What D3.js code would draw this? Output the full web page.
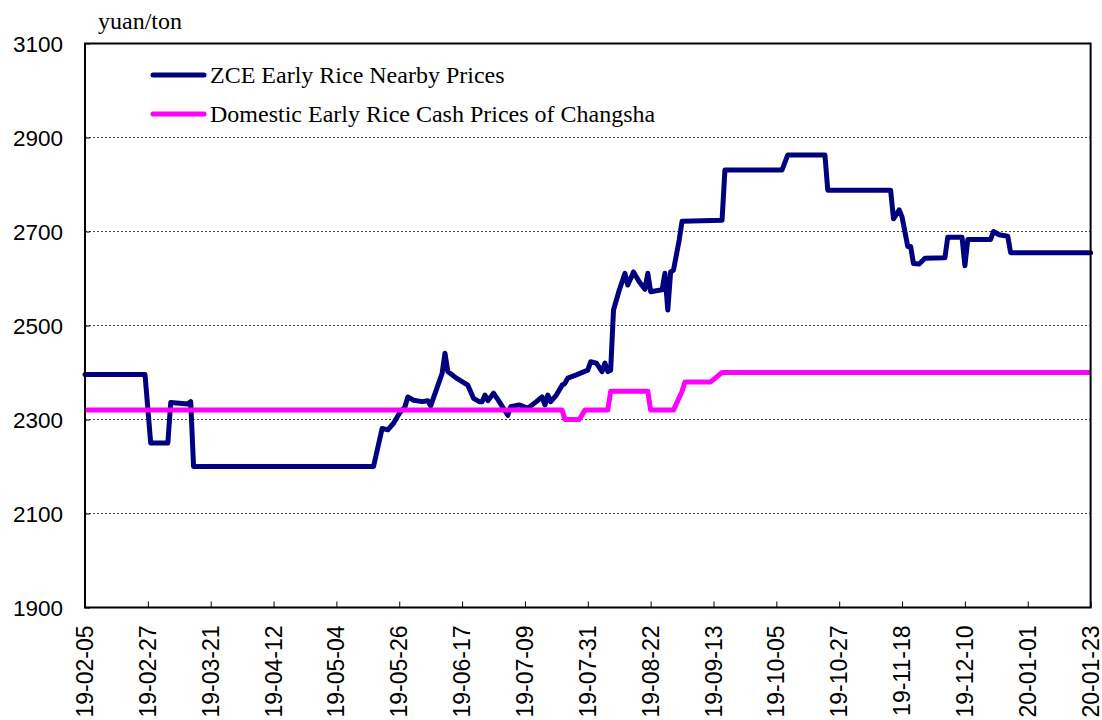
<!DOCTYPE html>
<html>
<head>
<meta charset="utf-8">
<script src="https://cdn.jsdelivr.net/npm/d3@7"></script>
<style>
  html, body { margin: 0; padding: 0; background: #fff; }
  svg { display: block; }
</style>
</head>
<body>
<svg id="chart" width="1102" height="720"></svg>
<script>
// ---------- DATA ----------
const seriesNames = ["ZCE Early Rice Nearby Prices", "Domestic Early Rice Cash Prices of Changsha"];
const unitLabel = "yuan/ton";

const zceDates = [
  "2019-02-05","2019-02-26","2019-02-28","2019-03-06","2019-03-07","2019-03-13","2019-03-14","2019-03-15",
  "2019-05-17","2019-05-20","2019-05-22","2019-05-24","2019-05-26","2019-05-28","2019-05-29","2019-05-31",
  "2019-06-03","2019-06-05","2019-06-06","2019-06-10","2019-06-11","2019-06-12","2019-06-15","2019-06-19",
  "2019-06-21","2019-06-23","2019-06-24","2019-06-25","2019-06-26","2019-06-28","2019-06-30","2019-07-03",
  "2019-07-04","2019-07-07","2019-07-10","2019-07-13","2019-07-15","2019-07-16","2019-07-17","2019-07-18",
  "2019-07-20","2019-07-22","2019-07-23","2019-07-24","2019-07-27","2019-07-31","2019-08-01","2019-08-03",
  "2019-08-05","2019-08-06","2019-08-07","2019-08-08","2019-08-09","2019-08-11","2019-08-13","2019-08-14",
  "2019-08-16","2019-08-18","2019-08-20","2019-08-21","2019-08-22","2019-08-24","2019-08-26","2019-08-27",
  "2019-08-28","2019-08-29","2019-08-30","2019-09-01","2019-09-02","2019-09-16","2019-09-17","2019-10-07",
  "2019-10-09","2019-10-22","2019-10-23","2019-11-14","2019-11-15","2019-11-17","2019-11-18","2019-11-20",
  "2019-11-21","2019-11-22","2019-11-24","2019-11-26","2019-12-03","2019-12-04","2019-12-09","2019-12-10",
  "2019-12-11","2019-12-19","2019-12-20","2019-12-22","2019-12-25","2019-12-26","2020-01-23"
];
const zceValues = [
  2396,2396,2250,2250,2336,2333,2338,2200,
  2200,2281,2278,2292,2313,2327,2348,2341,
  2338,2340,2329,2398,2441,2402,2388,2373,
  2345,2338,2338,2352,2340,2356,2338,2309,
  2327,2331,2324,2338,2348,2331,2352,2338,
  2352,2373,2377,2388,2395,2405,2423,2420,
  2402,2420,2402,2405,2533,2575,2611,2586,
  2614,2593,2577,2611,2572,2574,2576,2611,
  2533,2614,2618,2682,2722,2724,2831,2831,
  2863,2863,2788,2788,2727,2746,2731,2668,
  2668,2632,2631,2643,2644,2688,2688,2627,
  2683,2683,2700,2693,2690,2655,2655
];

const cashDates = [
  "2019-02-05","2019-07-22","2019-07-23","2019-07-28","2019-07-30","2019-08-07","2019-08-08","2019-08-21",
  "2019-08-22","2019-08-30","2019-09-02","2019-09-03","2019-09-12","2019-09-16","2020-01-23"
];
const cashValues = [
  2320,2320,2300,2300,2320,2320,2360,2360,
  2320,2320,2360,2380,2380,2400,2400
];

const xTickLabels = ["19-02-05","19-02-27","19-03-21","19-04-12","19-05-04","19-05-26","19-06-17","19-07-09",
  "19-07-31","19-08-22","19-09-13","19-10-05","19-10-27","19-11-18","19-12-10","20-01-01","20-01-23"];
const yTickValues = [1900, 2100, 2300, 2500, 2700, 2900, 3100];
const gridValues = [2100, 2300, 2500, 2700, 2900];

// ---------- CHART ----------
(function () {
const svg = d3.select("#chart");
const pL = 85, pR = 1090.6, pT = 43.5, pB = 607.5;
const parse = d3.timeParse("%Y-%m-%d");
const parseTick = d3.timeParse("%y-%m-%d");

const x = d3.scaleTime()
  .domain([parse("2019-02-05"), parse("2020-01-23")])
  .range([pL, pR]);
const y = d3.scaleLinear().domain([1900, 3100]).range([pB, pT]);

// gridlines
svg.append("g").selectAll("line").data(gridValues).join("line")
  .attr("x1", pL).attr("x2", pR)
  .attr("y1", d => y(d)).attr("y2", d => y(d))
  .attr("stroke", "#444").attr("stroke-width", 1)
  .attr("stroke-dasharray", "2,2");

// lines
const line = d3.line().x(d => x(d[0])).y(d => y(d[1]));
const zce = zceDates.map((d, i) => [parse(d), zceValues[i]]);
const cash = cashDates.map((d, i) => [parse(d), cashValues[i]]);

svg.append("path").datum(zce).attr("d", line)
  .attr("fill", "none").attr("stroke", "#000080").attr("stroke-width", 5)
  .attr("stroke-linejoin", "round").attr("stroke-linecap", "round");
svg.append("path").datum(cash).attr("d", line)
  .attr("fill", "none").attr("stroke", "#FF00FF").attr("stroke-width", 5)
  .attr("stroke-linejoin", "round").attr("stroke-linecap", "butt");

// axes
const tickDates = xTickLabels.map(parseTick);
const xAxis = d3.axisBottom(x).tickValues(tickDates).tickSize(-6).tickFormat(d3.timeFormat("%y-%m-%d"));
const gx = svg.append("g").attr("transform", `translate(0,${pB})`).call(xAxis);
gx.select(".domain").remove();
gx.selectAll(".tick line").attr("stroke", "#000").attr("stroke-width", 1);
gx.selectAll(".tick text")
  .attr("font-family", "'Liberation Sans', Arial, sans-serif")
  .attr("font-size", 23).attr("fill", "#000")
  .attr("transform", "rotate(-90)")
  .attr("text-anchor", "end")
  .attr("x", -18).attr("y", 0).attr("dy", "0.33em");

const yAxis = d3.axisLeft(y).tickValues(yTickValues).tickSize(-5).tickFormat(d3.format("d"));
const gy = svg.append("g").attr("transform", `translate(${pL},0)`).call(yAxis);
gy.select(".domain").remove();
gy.selectAll(".tick line").attr("stroke", "#000");
gy.selectAll(".tick text")
  .attr("font-family", "'Liberation Sans', Arial, sans-serif")
  .attr("font-size", 22.5).attr("fill", "#000")
  .attr("x", -22).attr("dy", "0.36em");

// frame
svg.append("rect").attr("x", pL).attr("y", pT)
  .attr("width", pR - pL).attr("height", pB - pT)
  .attr("fill", "none").attr("stroke", "#000").attr("stroke-width", 2);

// unit label
svg.append("text").attr("x", 98).attr("y", 29)
  .attr("font-family", "'Liberation Serif', 'Times New Roman', serif")
  .attr("font-size", 24).text(unitLabel);

// legend
const legendColors = ["#000080", "#FF00FF"];
const lg = svg.append("g");
seriesNames.forEach((name, i) => {
  const ly = 75 + i * 39;
  lg.append("line").attr("x1", 153).attr("x2", 204).attr("y1", ly).attr("y2", ly)
    .attr("stroke", legendColors[i]).attr("stroke-width", 5).attr("stroke-linecap", "round");
  lg.append("text").attr("x", 210).attr("y", ly + 8)
    .attr("font-family", "'Liberation Serif', 'Times New Roman', serif")
    .attr("font-size", 24).attr("fill", "#000").text(name);
});
})();
</script>
</body>
</html>
